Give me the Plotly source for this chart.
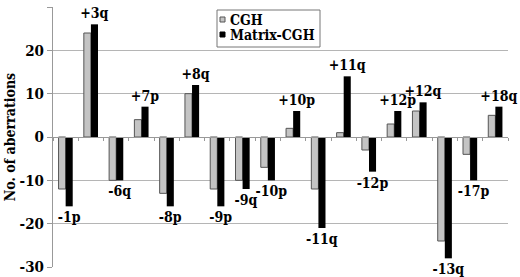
import plotly.graph_objects as go

categories = ["-1p", "+3q", "-6q", "+7p", "-8p", "+8q", "-9p", "-9q", "-10p",
              "+10p", "-11q", "+11q", "-12p", "+12p", "+12q", "-13q", "-17p", "+18q"]
cgh = [-12, 24, -10, 4, -13, 10, -12, -10, -7, 2, -12, 1, -3, 3, 6, -24, -4, 5]
matrix_cgh = [-16, 26, -10, 7, -16, 12, -16, -12, -10, 6, -21, 14, -8, 6, 8, -28, -10, 7]
y_ticks = [-30, -20, -10, 0, 10, 20, 30]
y_tick_text = ["-30", "-20", "-10", "0", "10", "20", "30"]
legend_names = ["CGH", "Matrix-CGH"]

FONT = "DejaVu Serif Condensed, DejaVu Serif, serif"
W, H = 520, 277
ML, MR, MT, MB = 53, 12, 7, 10
pw, ph = W - ML - MR, H - MT - MB

def px(x):
    return (x - ML) / pw

def py(y):
    return (H - MB - y) / ph

def f(size):
    return dict(family=FONT, size=size, color="#000", weight="bold")

fig = go.Figure()
fig.add_trace(go.Bar(x=categories, y=cgh, name=legend_names[0],
                     marker=dict(color="#c4c4c4", line=dict(color="#555555", width=1)),
                     showlegend=False))
fig.add_trace(go.Bar(x=categories, y=matrix_cgh, name=legend_names[1],
                     marker=dict(color="#000000", line=dict(color="#000000", width=0)),
                     text=categories, textposition="outside",
                     constraintext="none", cliponaxis=False,
                     textfont=f(14), showlegend=False))

shapes = [
    dict(type="rect", xref="paper", yref="paper", x0=px(217), x1=px(320),
         y0=py(47), y1=py(10), line=dict(color="#777777", width=1), fillcolor="#ffffff"),
    dict(type="rect", xref="paper", yref="paper", x0=px(220), x1=px(225),
         y0=py(22), y1=py(17), line=dict(color="#555555", width=1), fillcolor="#c4c4c4"),
    dict(type="rect", xref="paper", yref="paper", x0=px(220), x1=px(225),
         y0=py(37), y1=py(32), line=dict(color="#000", width=1), fillcolor="#000"),
]
annotations = [
    dict(xref="paper", yref="paper", x=px(228), y=py(20), text=legend_names[0],
         showarrow=False, xanchor="left", yanchor="middle", font=f(14)),
    dict(xref="paper", yref="paper", x=px(228), y=py(35), text=legend_names[1],
         showarrow=False, xanchor="left", yanchor="middle", font=f(14)),
]

fig.update_layout(
    width=W, height=H,
    margin=dict(l=ML, r=MR, t=MT, b=MB, pad=0, autoexpand=False),
    paper_bgcolor="#fff", plot_bgcolor="#fff",
    barmode="group", bargap=0.44, bargroupgap=0,
    shapes=shapes, annotations=annotations,
    xaxis=dict(showticklabels=False, showgrid=False, zeroline=False, automargin=False,
               anchor="free", position=0.5, showline=True, linecolor="#999999",
               linewidth=1, ticks="outside", ticklen=3, tickcolor="#999999",
               tickson="boundaries"),
    yaxis=dict(range=[-30, 30], tickvals=y_ticks, ticktext=y_tick_text,
               automargin=False,
               showgrid=True, gridcolor="#b5b5b5", gridwidth=1, zeroline=False,
               showline=True, linecolor="#999999", linewidth=1,
               ticks="outside", ticklen=5, tickcolor="#999999",
               tickfont=f(15),
               title=dict(text="No. of aberrations", standoff=0, font=f(14))),
)

fig.write_html("out.html", config={"displayModeBar": False},
               post_script="document.body.style.margin='0';document.body.style.overflow='hidden';")
